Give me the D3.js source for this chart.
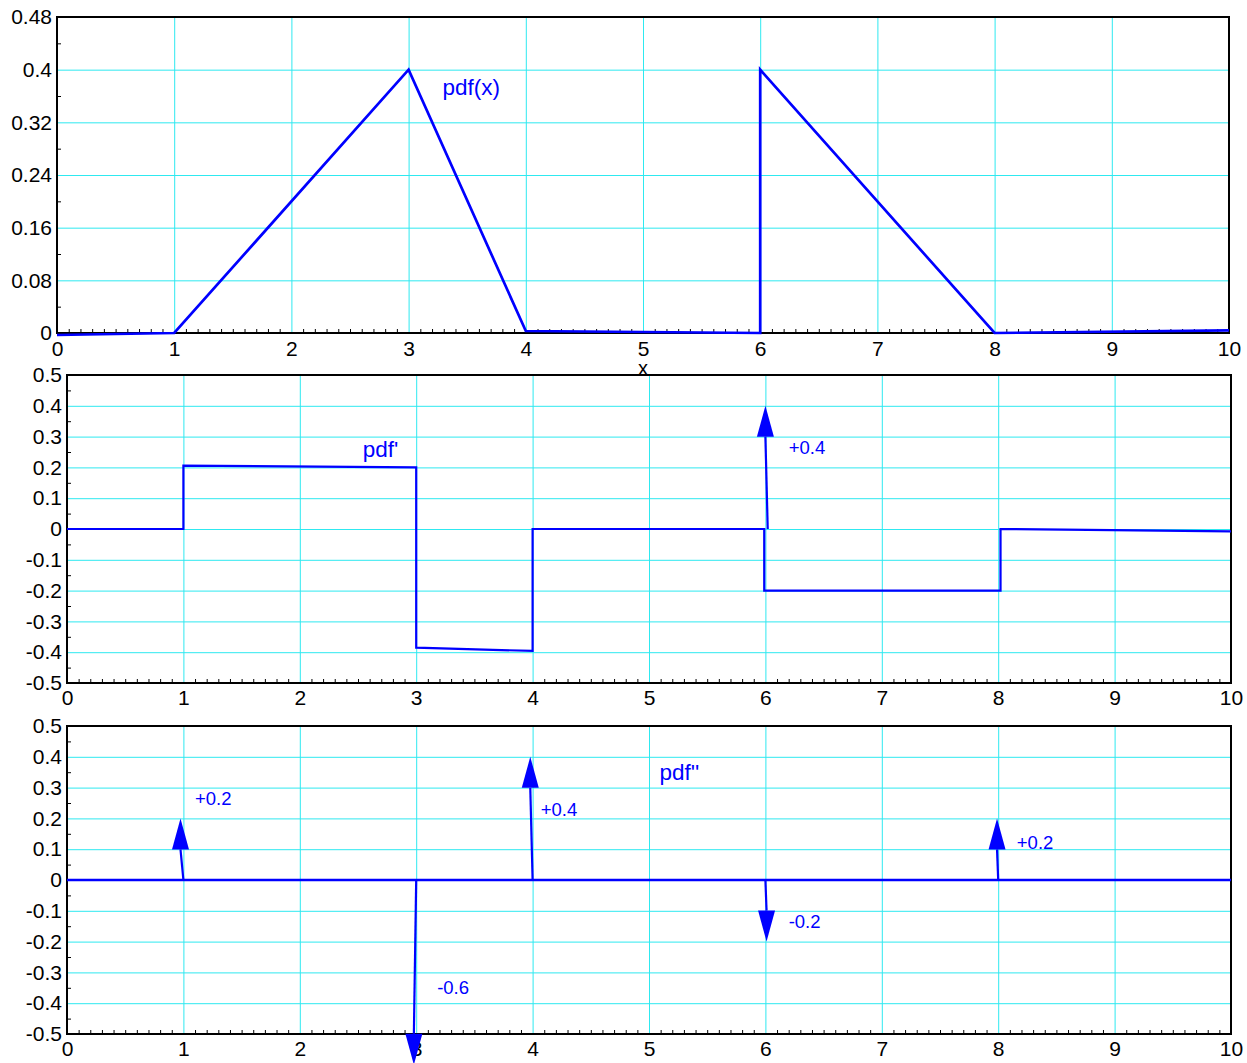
<!DOCTYPE html>
<html>
<head>
<meta charset="utf-8">
<script src="https://cdn.jsdelivr.net/npm/d3@7"></script>
<style>
  body { margin: 0; background: #fff; }
  svg { display: block; }
</style>
</head>
<body>
<svg id="chart" width="1247" height="1063"></svg>
<script>
// ---- tick values ----
const xTicks = [0, 1, 2, 3, 4, 5, 6, 7, 8, 9, 10];
const pdfYTicks = [0, 0.08, 0.16, 0.24, 0.32, 0.4, 0.48];
const derivYTicks = [-0.5, -0.4, -0.3, -0.2, -0.1, 0, 0.1, 0.2, 0.3, 0.4, 0.5];

// ---- pdf(x): piecewise-linear density ----
const pdfX = [0, 1, 3, 4, 6, 6, 8, 10];
const pdfY = [-0.003, 0, 0.4, 0.003, 0, 0.4, 0, 0.004];

// ---- pdf': step function ----
const d1X = [0, 1, 1, 3, 3, 4, 4, 5.99, 5.99, 8.02, 8.02, 10];
const d1Y = [0, 0, 0.206, 0.2, -0.385, -0.396, 0, 0, -0.2, -0.2, 0, -0.008];
// delta at x = 6
const d1ImpX = [6.02];
const d1ImpTipX = [6.0];
const d1ImpVal = [0.4];
const d1ImpLabelX = [6.2];
const d1ImpLabelY = [0.263];

// ---- pdf'': deltas on a zero line ----
const d2X = [0, 10];
const d2Y = [0, 0];
const d2ImpX = [1, 3, 4, 6, 8];
const d2ImpTipX = [0.975, 2.98, 3.98, 6.01, 7.99];
const d2ImpVal = [0.2, -0.6, 0.4, -0.2, 0.2];
const d2ImpLabelX = [1.1, 3.18, 4.07, 6.2, 8.16];
const d2ImpLabelY = [0.263, -0.35, 0.23, -0.136, 0.123];

// ---- curve names ----
const curveNames = ["pdf(x)", "pdf'", "pdf''"];
const curveNameX = [3.29, 2.54, 5.09];
const curveNameY = [0.374, 0.26, 0.35];

const FONT = "'Liberation Sans', Arial, Helvetica, sans-serif";
const GRID = "#2ee9f0";
const BLUE = "#0000ff";

const svg = d3.select("#chart");
svg.append("rect").attr("width", 1247).attr("height", 1063).attr("fill", "#fff");

const minorX = d3.range(0, 101).map(i => i / 10).filter(v => Math.abs(v - Math.round(v)) > 1e-9);

function valueLabel(v) { return (v > 0 ? "+" : "") + v; }

function panel(cfg) {
  const x = d3.scaleLinear().domain([0, 10]).range([cfg.left, cfg.right]);
  const y = d3.scaleLinear().domain(cfg.yDomain).range([cfg.bottom, cfg.top]);
  const w = cfg.right - cfg.left, h = cfg.bottom - cfg.top;
  const g = svg.append("g");

  // grid
  g.append("g").attr("transform", `translate(0,${cfg.bottom})`)
    .call(d3.axisBottom(x).tickValues(xTicks.slice(1, -1)).tickSize(-h).tickFormat(""))
    .call(a => a.select(".domain").remove())
    .call(a => a.selectAll("line").attr("stroke", GRID).attr("stroke-width", 1));
  g.append("g").attr("transform", `translate(${cfg.left},0)`)
    .call(d3.axisLeft(y).tickValues(cfg.yTicks.slice(1, -1)).tickSize(-w).tickFormat(""))
    .call(a => a.select(".domain").remove())
    .call(a => a.selectAll("line").attr("stroke", GRID).attr("stroke-width", 1));

  // minor ticks
  g.append("g").attr("transform", `translate(0,${cfg.bottom})`)
    .call(d3.axisBottom(x).tickValues(minorX).tickSize(-4).tickFormat(""))
    .call(a => a.select(".domain").remove())
    .call(a => a.selectAll("line").attr("stroke", "#000").attr("stroke-width", 1));
  const yMinor = cfg.yTicks.slice(0, -1).map((v, i) => (v + cfg.yTicks[i + 1]) / 2);
  g.append("g").attr("transform", `translate(${cfg.left},0)`)
    .call(d3.axisLeft(y).tickValues(yMinor).tickSize(-4).tickFormat(""))
    .call(a => a.select(".domain").remove())
    .call(a => a.selectAll("line").attr("stroke", "#000").attr("stroke-width", 1));

  // frame
  g.append("rect").attr("x", cfg.left).attr("y", cfg.top).attr("width", w).attr("height", h)
    .attr("fill", "none").attr("stroke", "#000").attr("stroke-width", 2);

  // tick labels
  g.append("g").attr("transform", `translate(0,${cfg.bottom})`)
    .call(d3.axisBottom(x).tickValues(xTicks).tickSize(0).tickPadding(cfg.xPad).tickFormat(d => String(d)))
    .call(a => a.select(".domain").remove())
    .call(a => a.selectAll("text").attr("font-size", 21).attr("font-family", FONT).attr("fill", "#000"));
  g.append("g").attr("transform", `translate(${cfg.left},0)`)
    .call(d3.axisLeft(y).tickValues(cfg.yTicks).tickSize(0).tickPadding(5).tickFormat(d => String(d)))
    .call(a => a.select(".domain").remove())
    .call(a => a.selectAll("text").attr("font-size", 21).attr("font-family", FONT).attr("fill", "#000"));

  return { g, x, y };
}

function drawLine(p, xs, ys, width) {
  const pts = xs.map((v, i) => [v, ys[i]]);
  p.g.append("path").datum(pts)
    .attr("d", d3.line().x(d => p.x(d[0])).y(d => p.y(d[1])))
    .attr("fill", "none").attr("stroke", BLUE).attr("stroke-width", width)
    .attr("stroke-linejoin", "miter");
}

function drawImpulses(p, xs, tips, vals, lx, ly) {
  const headH = 31, headW = 8.5;
  xs.forEach((bx, i) => {
    const x0 = p.x(bx), y0 = p.y(0);
    const x1 = p.x(tips[i]), y1 = p.y(vals[i]);
    const dir = vals[i] > 0 ? 1 : -1;          // +1: tip above base
    const yb = y1 + dir * headH;
    p.g.append("line").attr("x1", x0).attr("y1", y0).attr("x2", x1).attr("y2", yb)
      .attr("stroke", BLUE).attr("stroke-width", 2.2);
    p.g.append("path")
      .attr("d", `M${x1},${y1}L${x1 - headW},${yb}L${x1 + headW},${yb}Z`)
      .attr("fill", BLUE);
    p.g.append("text").attr("x", p.x(lx[i])).attr("y", p.y(ly[i]))
      .attr("dy", "0.35em").attr("font-family", FONT).attr("font-size", 18.5)
      .attr("fill", BLUE).text(valueLabel(vals[i]));
  });
}

function curveName(p, i) {
  p.g.append("text").attr("x", p.x(curveNameX[i])).attr("y", p.y(curveNameY[i]))
    .attr("dy", "0.35em").attr("font-family", FONT).attr("font-size", 22.5)
    .attr("fill", BLUE).text(curveNames[i]);
}

// Panel 1: pdf
const p1 = panel({ left: 57, right: 1229, top: 17, bottom: 333, yDomain: [0, 0.48], yTicks: pdfYTicks, xPad: 8 });
drawLine(p1, pdfX, pdfY, 2.7);
curveName(p1, 0);
p1.g.append("text").attr("x", p1.x(5)).attr("y", 368).attr("dy", "0.35em")
  .attr("text-anchor", "middle").attr("font-family", FONT).attr("font-size", 20).text("x");

// Panel 2: first derivative
const p2 = panel({ left: 67, right: 1231, top: 375, bottom: 683, yDomain: [-0.5, 0.5], yTicks: derivYTicks, xPad: 7 });
drawLine(p2, d1X, d1Y, 2.2);
drawImpulses(p2, d1ImpX, d1ImpTipX, d1ImpVal, d1ImpLabelX, d1ImpLabelY);
curveName(p2, 1);

// Panel 3: second derivative
const p3 = panel({ left: 67, right: 1231, top: 726, bottom: 1034, yDomain: [-0.5, 0.5], yTicks: derivYTicks, xPad: 7 });
drawLine(p3, d2X, d2Y, 2.6);
drawImpulses(p3, d2ImpX, d2ImpTipX, d2ImpVal, d2ImpLabelX, d2ImpLabelY);
curveName(p3, 2);
</script>
</body>
</html>
